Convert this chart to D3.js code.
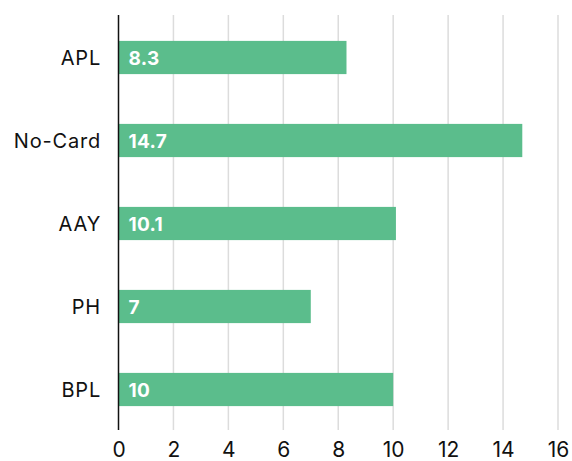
<!DOCTYPE html>
<html>
<head>
<meta charset="utf-8">
<script src="https://cdn.jsdelivr.net/npm/d3@7"></script>
<style>
  body { margin: 0; background: #fff; }
  text { font-family: Inter, Lato, sans-serif; }
</style>
</head>
<body>
<script>
// chart data
var categories = ["APL", "No-Card", "AAY", "PH", "BPL"];
var values = [8.3, 14.7, 10.1, 7, 10];
var tickValues = [0, 2, 4, 6, 8, 10, 12, 14, 16];

var w = 572;
var h = 461;
var margin = { top: 15, right: 14, bottom: 31, left: 118.5 };

var svg = d3.select("body")
  .append("svg")
  .attr("width", w)
  .attr("height", h);

var x = d3.scaleLinear()
  .domain([0, 16])
  .range([margin.left, w - margin.right]);

var y = d3.scaleBand()
  .domain(categories)
  .range([margin.top + 1, h - margin.bottom + 1])
  .paddingInner(0.6)
  .paddingOuter(0.3);

// gridlines
svg.selectAll("line.grid")
  .data(tickValues.slice(1))
  .enter()
  .append("line")
  .attr("class", "grid")
  .attr("x1", function(d) { return x(d); })
  .attr("x2", function(d) { return x(d); })
  .attr("y1", margin.top)
  .attr("y2", h - margin.bottom)
  .attr("stroke", "#dcdcdc")
  .attr("stroke-width", 1.5);

// bars
svg.selectAll("rect.bar")
  .data(values)
  .enter()
  .append("rect")
  .attr("class", "bar")
  .attr("x", x(0))
  .attr("y", function(d, i) { return y(categories[i]); })
  .attr("width", function(d) { return x(d) - x(0); })
  .attr("height", y.bandwidth())
  .attr("fill", "#5bbd8c");

// value labels inside bars
svg.selectAll("text.val")
  .data(values)
  .enter()
  .append("text")
  .attr("class", "val")
  .attr("x", x(0) + 10)
  .attr("y", function(d, i) { return y(categories[i]) + y.bandwidth() / 2; })
  .attr("dy", "0.4em")
  .attr("fill", "#fff")
  .attr("font-weight", "bold")
  .attr("font-size", 19)
  .attr("letter-spacing", 0.3)
  .text(function(d) { return d; });

// category labels
svg.selectAll("text.cat")
  .data(categories)
  .enter()
  .append("text")
  .attr("class", "cat")
  .attr("x", 101)
  .attr("y", function(d) { return y(d) + y.bandwidth() / 2; })
  .attr("dy", "0.36em")
  .attr("text-anchor", "end")
  .attr("fill", "#111")
  .attr("font-size", 20)
  .attr("letter-spacing", 0.8)
  .text(function(d) { return d; });

// zero line
svg.append("line")
  .attr("x1", x(0))
  .attr("x2", x(0))
  .attr("y1", margin.top)
  .attr("y2", h - margin.bottom)
  .attr("stroke", "#111")
  .attr("stroke-width", 1.5);

// x axis labels
var xAxis = d3.axisBottom(x)
  .tickValues(tickValues)
  .tickSize(0)
  .tickPadding(12);

var gx = svg.append("g")
  .attr("transform", "translate(0," + (h - margin.bottom) + ")")
  .call(xAxis);
gx.select(".domain").remove();
gx.selectAll("text")
  .attr("font-size", 21)
  .attr("fill", "#111")
  .style("font-family", "Inter, Lato, sans-serif");
</script>
</body>
</html>
